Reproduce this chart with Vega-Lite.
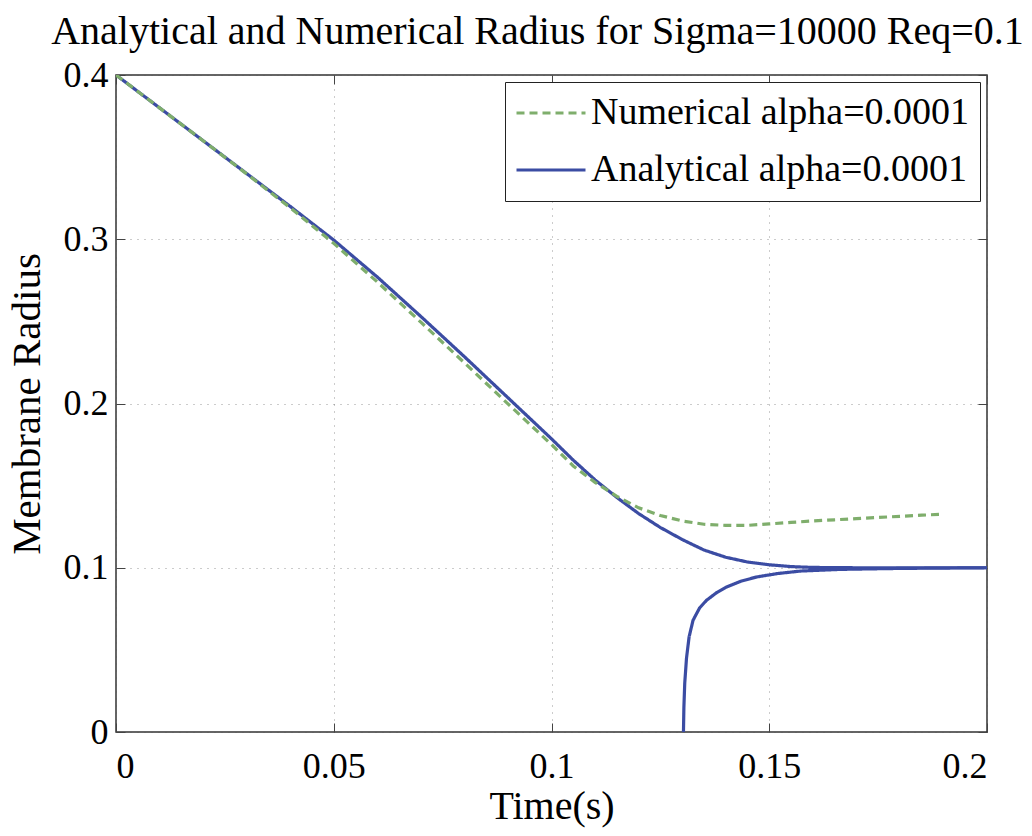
{
  "$schema": "https://vega.github.io/schema/vega-lite/v6.json",
  "autosize": {"type": "none"},
  "width": 871,
  "height": 657,
  "padding": {"left": 116, "top": 75, "right": 45, "bottom": 104},
  "background": "white",
  "config": {
    "view": {"stroke": "#333333", "strokeWidth": 1.5},
    "font": "Liberation Serif"
  },
  "title": {
    "text": "Analytical and Numerical Radius for Sigma=10000 Req=0.1",
    "font": "Liberation Serif",
    "fontSize": 40,
    "fontWeight": "normal",
    "color": "black",
    "anchor": "middle",
    "dx": -14,
    "offset": 5
  },
  "data": {
    "values": [
      {"t": 0.0, "r": 0.4, "s": "Analytical alpha=0.0001", "b": "A1"},
      {"t": 0.01, "r": 0.38, "s": "Analytical alpha=0.0001", "b": "A1"},
      {"t": 0.02, "r": 0.36, "s": "Analytical alpha=0.0001", "b": "A1"},
      {"t": 0.03, "r": 0.34, "s": "Analytical alpha=0.0001", "b": "A1"},
      {"t": 0.04, "r": 0.32, "s": "Analytical alpha=0.0001", "b": "A1"},
      {"t": 0.05, "r": 0.2995, "s": "Analytical alpha=0.0001", "b": "A1"},
      {"t": 0.06, "r": 0.277, "s": "Analytical alpha=0.0001", "b": "A1"},
      {"t": 0.07, "r": 0.253, "s": "Analytical alpha=0.0001", "b": "A1"},
      {"t": 0.08, "r": 0.2285, "s": "Analytical alpha=0.0001", "b": "A1"},
      {"t": 0.09, "r": 0.2035, "s": "Analytical alpha=0.0001", "b": "A1"},
      {"t": 0.1, "r": 0.1785, "s": "Analytical alpha=0.0001", "b": "A1"},
      {"t": 0.105, "r": 0.1655, "s": "Analytical alpha=0.0001", "b": "A1"},
      {"t": 0.11, "r": 0.1535, "s": "Analytical alpha=0.0001", "b": "A1"},
      {"t": 0.115, "r": 0.1428, "s": "Analytical alpha=0.0001", "b": "A1"},
      {"t": 0.12, "r": 0.133, "s": "Analytical alpha=0.0001", "b": "A1"},
      {"t": 0.125, "r": 0.1245, "s": "Analytical alpha=0.0001", "b": "A1"},
      {"t": 0.13, "r": 0.1172, "s": "Analytical alpha=0.0001", "b": "A1"},
      {"t": 0.135, "r": 0.1108, "s": "Analytical alpha=0.0001", "b": "A1"},
      {"t": 0.14, "r": 0.1064, "s": "Analytical alpha=0.0001", "b": "A1"},
      {"t": 0.145, "r": 0.1035, "s": "Analytical alpha=0.0001", "b": "A1"},
      {"t": 0.15, "r": 0.1018, "s": "Analytical alpha=0.0001", "b": "A1"},
      {"t": 0.155, "r": 0.1007, "s": "Analytical alpha=0.0001", "b": "A1"},
      {"t": 0.16, "r": 0.1002, "s": "Analytical alpha=0.0001", "b": "A1"},
      {"t": 0.17, "r": 0.1, "s": "Analytical alpha=0.0001", "b": "A1"},
      {"t": 0.2, "r": 0.1, "s": "Analytical alpha=0.0001", "b": "A1"},
      {"t": 0.1303, "r": 0.0, "s": "Analytical alpha=0.0001", "b": "A2"},
      {"t": 0.1304, "r": 0.015, "s": "Analytical alpha=0.0001", "b": "A2"},
      {"t": 0.1306, "r": 0.03, "s": "Analytical alpha=0.0001", "b": "A2"},
      {"t": 0.131, "r": 0.045, "s": "Analytical alpha=0.0001", "b": "A2"},
      {"t": 0.1316, "r": 0.058, "s": "Analytical alpha=0.0001", "b": "A2"},
      {"t": 0.1325, "r": 0.068, "s": "Analytical alpha=0.0001", "b": "A2"},
      {"t": 0.134, "r": 0.0755, "s": "Analytical alpha=0.0001", "b": "A2"},
      {"t": 0.1356, "r": 0.0802, "s": "Analytical alpha=0.0001", "b": "A2"},
      {"t": 0.138, "r": 0.085, "s": "Analytical alpha=0.0001", "b": "A2"},
      {"t": 0.1402, "r": 0.0883, "s": "Analytical alpha=0.0001", "b": "A2"},
      {"t": 0.1435, "r": 0.0918, "s": "Analytical alpha=0.0001", "b": "A2"},
      {"t": 0.1471, "r": 0.0944, "s": "Analytical alpha=0.0001", "b": "A2"},
      {"t": 0.152, "r": 0.0965, "s": "Analytical alpha=0.0001", "b": "A2"},
      {"t": 0.1572, "r": 0.098, "s": "Analytical alpha=0.0001", "b": "A2"},
      {"t": 0.1662, "r": 0.099, "s": "Analytical alpha=0.0001", "b": "A2"},
      {"t": 0.18, "r": 0.0996, "s": "Analytical alpha=0.0001", "b": "A2"},
      {"t": 0.2, "r": 0.1, "s": "Analytical alpha=0.0001", "b": "A2"},
      {"t": 0.0, "r": 0.4, "s": "Numerical alpha=0.0001", "b": "N"},
      {"t": 0.01, "r": 0.38, "s": "Numerical alpha=0.0001", "b": "N"},
      {"t": 0.02, "r": 0.36, "s": "Numerical alpha=0.0001", "b": "N"},
      {"t": 0.03, "r": 0.3398, "s": "Numerical alpha=0.0001", "b": "N"},
      {"t": 0.04, "r": 0.3192, "s": "Numerical alpha=0.0001", "b": "N"},
      {"t": 0.05, "r": 0.2975, "s": "Numerical alpha=0.0001", "b": "N"},
      {"t": 0.06, "r": 0.274, "s": "Numerical alpha=0.0001", "b": "N"},
      {"t": 0.07, "r": 0.2495, "s": "Numerical alpha=0.0001", "b": "N"},
      {"t": 0.08, "r": 0.2248, "s": "Numerical alpha=0.0001", "b": "N"},
      {"t": 0.09, "r": 0.1998, "s": "Numerical alpha=0.0001", "b": "N"},
      {"t": 0.1, "r": 0.175, "s": "Numerical alpha=0.0001", "b": "N"},
      {"t": 0.105, "r": 0.162, "s": "Numerical alpha=0.0001", "b": "N"},
      {"t": 0.11, "r": 0.152, "s": "Numerical alpha=0.0001", "b": "N"},
      {"t": 0.115, "r": 0.1435, "s": "Numerical alpha=0.0001", "b": "N"},
      {"t": 0.12, "r": 0.1365, "s": "Numerical alpha=0.0001", "b": "N"},
      {"t": 0.125, "r": 0.1318, "s": "Numerical alpha=0.0001", "b": "N"},
      {"t": 0.13, "r": 0.1285, "s": "Numerical alpha=0.0001", "b": "N"},
      {"t": 0.135, "r": 0.1265, "s": "Numerical alpha=0.0001", "b": "N"},
      {"t": 0.14, "r": 0.1258, "s": "Numerical alpha=0.0001", "b": "N"},
      {"t": 0.145, "r": 0.1258, "s": "Numerical alpha=0.0001", "b": "N"},
      {"t": 0.15, "r": 0.1267, "s": "Numerical alpha=0.0001", "b": "N"},
      {"t": 0.155, "r": 0.1276, "s": "Numerical alpha=0.0001", "b": "N"},
      {"t": 0.16, "r": 0.1285, "s": "Numerical alpha=0.0001", "b": "N"},
      {"t": 0.165, "r": 0.1292, "s": "Numerical alpha=0.0001", "b": "N"},
      {"t": 0.17, "r": 0.1299, "s": "Numerical alpha=0.0001", "b": "N"},
      {"t": 0.175, "r": 0.1306, "s": "Numerical alpha=0.0001", "b": "N"},
      {"t": 0.18, "r": 0.1313, "s": "Numerical alpha=0.0001", "b": "N"},
      {"t": 0.185, "r": 0.132, "s": "Numerical alpha=0.0001", "b": "N"},
      {"t": 0.189, "r": 0.1325, "s": "Numerical alpha=0.0001", "b": "N"}
    ]
  },
  "layer": [
    {
      "mark": {"type": "line", "strokeWidth": 3.2, "clip": true},
      "encoding": {
        "x": {
          "field": "t", "type": "quantitative",
          "scale": {"domain": [0, 0.2], "nice": false, "zero": false},
          "axis": {
            "orient": "bottom",
            "values": [0, 0.05, 0.1, 0.15, 0.2],
            "format": "~g",
            "title": "Time(s)",
            "titleFont": "Liberation Serif", "titleFontSize": 40, "titleFontWeight": "normal", "titleColor": "black",
            "titlePadding": 2,
            "labelFont": "Liberation Serif", "labelFontSize": 36, "labelColor": "black",
            "labelPadding": 26,
            "tickSize": -9, "tickColor": "#444444", "tickWidth": 1,
            "domain": false,
            "grid": true, "gridColor": "#555555", "gridDash": [1, 6], "gridOpacity": 0.6, "gridWidth": 1
          }
        },
        "y": {
          "field": "r", "type": "quantitative",
          "scale": {"domain": [0, 0.4], "nice": false, "zero": false},
          "axis": {
            "orient": "left",
            "values": [0, 0.1, 0.2, 0.3, 0.4],
            "format": "~g",
            "title": "Membrane Radius",
            "titleFont": "Liberation Serif", "titleFontSize": 41, "titleFontWeight": "normal", "titleColor": "black",
            "titlePadding": 15,
            "labelFont": "Liberation Serif", "labelFontSize": 36, "labelColor": "black",
            "labelPadding": 17,
            "tickSize": -9, "tickColor": "#444444", "tickWidth": 1,
            "domain": false,
            "grid": true, "gridColor": "#555555", "gridDash": [1, 6], "gridOpacity": 0.6, "gridWidth": 1
          }
        },
        "detail": {"field": "b"},
        "color": {
          "field": "s", "type": "nominal",
          "scale": {"domain": ["Numerical alpha=0.0001", "Analytical alpha=0.0001"], "range": ["#7fae6c", "#3b4ca3"]},
          "legend": {
            "title": null,
            "orient": "top-right",
            "offset": 7,
            "fillColor": "white",
            "strokeColor": "#222222",
            "padding": 10,
            "labelFont": "Liberation Serif",
            "labelFontSize": 38,
            "labelColor": "black",
            "labelLimit": 0,
            "labelOffset": 4,
            "symbolType": "stroke",
            "symbolStrokeWidth": 3,
            "symbolSize": 4761,
            "clipHeight": 42,
            "rowPadding": 15
          }
        },
        "strokeDash": {
          "field": "s", "type": "nominal",
          "scale": {"domain": ["Numerical alpha=0.0001", "Analytical alpha=0.0001"], "range": [[8, 5], [1, 0]]},
          "legend": null
        }
      }
    },
    {
      "mark": {"type": "point", "opacity": 0},
      "encoding": {
        "x": {
          "field": "t", "type": "quantitative",
          "axis": {"orient": "top", "values": [0, 0.05, 0.1, 0.15, 0.2], "labels": false, "title": null, "tickSize": -9, "tickColor": "#444444", "domain": false, "grid": false}
        },
        "y": {
          "field": "r", "type": "quantitative",
          "axis": {"orient": "right", "values": [0, 0.1, 0.2, 0.3, 0.4], "labels": false, "title": null, "tickSize": -9, "tickColor": "#444444", "domain": false, "grid": false}
        }
      }
    }
  ],
  "resolve": {"axis": {"x": "independent", "y": "independent"}}
}
